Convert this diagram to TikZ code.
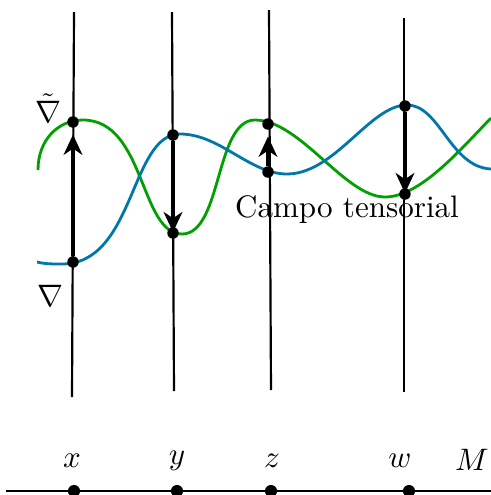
\documentclass[tikz,border=0pt]{standalone}
\usepackage{amsmath,amssymb}
\usetikzlibrary{arrows.meta}
\definecolor{secGreen}{HTML}{00A000}
\definecolor{secBlue}{HTML}{0077AA}

\begin{document}
\begin{tikzpicture}[
                x=0.322pt, y=-0.322pt,
                fibre/.style={line width=0.7pt},
                greensec/.style={secGreen, line width=0.9pt},
                bluesec/.style={secBlue, line width=0.9pt},
                dot/.style={circle, fill=black, inner sep=0pt, minimum size=3.7pt},
                transport/.style={-{Stealth[length=6.5pt, width=6pt, inset=2pt]}, line width=1.3pt}
            ]
                \useasboundingbox (0,0) rectangle (491,495);

                % fibres over each point of M
                \coordinate (xtop) at (74,12);   \coordinate (xbot) at (72,397);
                \coordinate (ytop) at (172,12);  \coordinate (ybot) at (174,391);
                \coordinate (ztop) at (269,10);  \coordinate (zbot) at (271,390);
                \coordinate (wtop) at (404,18);  \coordinate (wbot) at (404,392);
                \draw[fibre] (xtop) -- (xbot);
                \draw[fibre] (ytop) -- (ybot);
                \draw[fibre] (ztop) -- (zbot);
                \draw[fibre] (wtop) -- (wbot);

                % the two sections
                \draw[greensec] (38,170) .. controls (38,140) and (58,120) .. (83,120)
                    .. controls (145,120) and (140,234) .. (182,234)
                    .. controls (222,234) and (215,120) .. (255,120)
                    .. controls (300,120) and (345,197) .. (385,197)
                    .. controls (420,197) and (460,150) .. (491,118);
                \draw[bluesec] (37,262) .. controls (45,264) and (52,264) .. (62,264)
                    .. controls (135,264) and (130,134) .. (180,134)
                    .. controls (220,134) and (250,174) .. (287,174)
                    .. controls (335,174) and (370,105) .. (407,105)
                    .. controls (440,105) and (450,167) .. (491,169);

                % points on the sections
                \node[dot] (gx) at (73,122) {};
                \node[dot] (bx) at (73,262) {};
                \node[dot] (by) at (173,135) {};
                \node[dot] (gy) at (173,233) {};
                \node[dot] (gz) at (268,124) {};
                \node[dot] (bz) at (268,172) {};
                \node[dot] (bw) at (405,106) {};
                \node[dot] (gw) at (405,194) {};

                \draw[transport, shorten >=2pt] (bx) -- (gx);
                \draw[transport, shorten >=-1.8pt] (by) -- (gy);
                \draw[transport, shorten >=2pt] (bz) -- (gz);
                \draw[transport, shorten >=-1.8pt] (bw) -- (gw);

                \node (tnabla) at (48,108) {$\tilde{\nabla}$};
                \node (nabla) at (50,296) {$\nabla$};
                \node (campo) at (347,210) {Campo tensorial};

                % the base manifold
                \coordinate (mleft) at (6,491);
                \coordinate (mright) at (495,491);
                \draw[fibre] (mleft) -- (mright);
                \node[dot, minimum size=3.9pt] (px) at (74,491) {};
                \node[dot, minimum size=3.9pt] (py) at (177,491) {};
                \node[dot, minimum size=3.9pt] (pz) at (271,491) {};
                \node[dot, minimum size=3.9pt] (pw) at (409,491) {};
                \node (lx) at (72,461) {$x$};
                \node (ly) at (177,461) {$y$};
                \node (lz) at (272,461) {$z$};
                \node (lw) at (400,461) {$w$};
                \node (lM) at (472,460) {$M$};
            \end{tikzpicture}
\end{document}
